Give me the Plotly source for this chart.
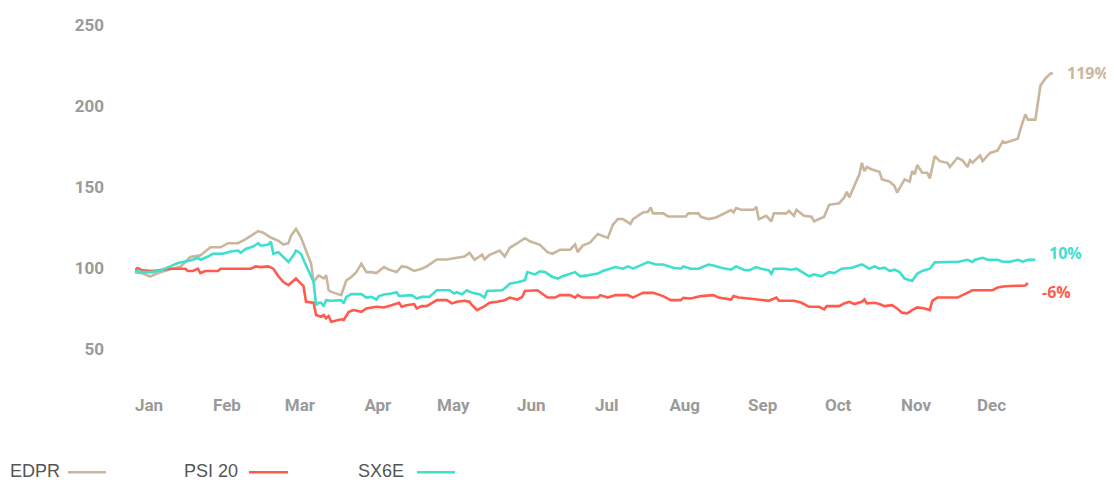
import pandas as pd
import plotly.graph_objects as go

# ---- data (day offset from 2020-01-01, indexed value) ----
edpr_day = [0, 3, 6, 9, 13, 18, 22, 26, 30, 34, 37, 41, 44, 48, 49, 51, 54, 57, 59, 61, 62, 64, 66, 68, 70, 71, 73, 75, 76, 77, 78, 82, 84, 86, 88, 90, 92, 94, 96, 99, 101, 104, 106, 108, 111, 114, 116, 120, 124, 128, 131, 133, 135, 138, 139, 141, 145, 147, 149, 152, 155, 157, 161, 164, 166, 169, 173, 175, 176, 178, 181, 184, 188, 190, 192, 194, 197, 198, 202, 204, 205, 206, 210, 212, 219, 220, 224, 225, 228, 231, 233, 237, 238, 239, 241, 246, 247, 248, 251, 253, 254, 259, 260, 262, 263, 266, 269, 270, 274, 276, 280, 282, 283, 284, 288, 289, 290, 291, 293, 296, 297, 300, 302, 303, 306, 308, 309, 310, 311, 313, 315, 316, 318, 320, 323, 324, 327, 329, 331, 332, 333, 335, 336, 337, 340, 343, 345, 346, 351, 352, 354, 355, 358, 360, 362, 364, 365]
edpr_val = [97.5, 97, 95, 97, 99, 101, 107, 108, 113, 113, 115.5, 115.5, 118, 121.6, 123, 122, 119, 117, 114.7, 115.5, 120, 124.3, 119, 111, 103, 91.6, 95.7, 93.9, 95.7, 86.5, 85.5, 83.5, 92.6, 94.7, 97.7, 102.9, 97.7, 97.7, 97.1, 100.8, 99.2, 97.7, 101.2, 100.8, 98.4, 99.8, 101.2, 105.5, 105.5, 106.5, 107.3, 109.6, 105.3, 108.4, 105.5, 108.4, 111, 107.3, 112.7, 115.5, 118.6, 116.7, 114.5, 110, 109, 111.5, 111.5, 114.7, 110, 114, 116, 121.2, 118.8, 127, 130.4, 130.4, 127.4, 130.4, 134.5, 134.9, 137.5, 133.9, 133.9, 132, 132, 133.9, 133.9, 131.8, 130.4, 131.4, 133, 135.9, 134.5, 137.2, 136.1, 136.1, 138, 130.4, 132.4, 129, 133.9, 133.9, 135.5, 132.4, 136.1, 132.4, 131.8, 129, 131.8, 139.2, 140.2, 143.7, 147.3, 143.7, 158, 165.1, 160, 162.5, 161, 159.6, 154.9, 153.5, 150.8, 146.7, 154.9, 153.5, 160, 158, 163.7, 159, 159, 155.5, 169.2, 166.1, 165.1, 162.5, 168.2, 166.6, 162.5, 166.6, 165.1, 168.2, 169.6, 166.1, 171.2, 172.7, 178.4, 177.4, 180, 185.5, 195, 191.7, 191.7, 212.7, 217.1, 220.2, 220.2]

psi_day = [0, 1, 3, 7, 11, 14, 20, 21, 23, 25, 26, 28, 33, 34, 46, 48, 50, 53, 55, 57, 59, 61, 62, 64, 66, 67, 68, 71, 72, 74, 75, 76, 77, 78, 82, 83, 85, 87, 90, 92, 96, 99, 102, 105, 106, 108, 111, 112, 114, 116, 120, 124, 126, 128, 131, 133, 134, 136, 139, 141, 144, 147, 149, 152, 154, 155, 160, 162, 164, 167, 169, 173, 175, 176, 178, 184, 185, 188, 191, 196, 198, 200, 202, 206, 210, 213, 217, 218, 221, 225, 230, 232, 237, 238, 240, 244, 249, 252, 255, 256, 262, 265, 268, 272, 274, 275, 280, 282, 284, 286, 289, 290, 291, 294, 296, 298, 301, 303, 305, 307, 309, 311, 314, 316, 317, 319, 327, 329, 333, 341, 343, 346, 351, 354, 355]
psi_val = [98.8, 100.2, 98.8, 98.4, 99.2, 99.8, 99.8, 98.4, 98.4, 99.8, 97.1, 98.4, 98.4, 99.8, 99.8, 101.2, 100.8, 101.2, 99.8, 95.1, 91.6, 89.6, 91, 93.7, 90.6, 89, 79.4, 78.8, 71.2, 70.2, 71.2, 69.2, 70.6, 67.1, 68.6, 68.2, 73.2, 74.3, 73.2, 75.3, 76.3, 75.9, 77.3, 78.8, 76.3, 77.3, 78, 75.3, 76.7, 76.7, 80.4, 80.4, 78.4, 79.4, 80, 79.4, 77.3, 74.3, 76.7, 78.8, 79.4, 80.4, 82, 80.8, 82.4, 86.1, 86.5, 84.5, 82, 82, 83.5, 83.5, 82, 83.5, 82, 82, 83.5, 82, 83.5, 83.5, 82, 83.5, 84.9, 84.9, 82.9, 80.4, 80.4, 81.8, 81.4, 82.9, 83.5, 82, 80.8, 82.9, 82, 81.4, 80.8, 80, 82, 80, 80, 78.8, 76.3, 76.3, 74.7, 76.7, 76.7, 78.4, 79.4, 78, 79.4, 80.8, 78.4, 78.8, 78, 76.7, 77.3, 75.3, 72.7, 72.3, 74.3, 75.9, 75.3, 74.3, 80, 82, 82, 83.5, 86.5, 86.5, 88.2, 89, 89, 89.4, 91]

sx_day = [0, 3, 7, 11, 14, 17, 20, 23, 25, 26, 29, 31, 35, 38, 41, 42, 44, 47, 49, 50, 53, 54, 55, 57, 61, 63, 64, 66, 67, 69, 71, 72, 73, 74, 75, 76, 78, 82, 83, 84, 86, 90, 92, 94, 96, 97, 99, 102, 104, 105, 108, 110, 112, 114, 117, 120, 125, 127, 128, 130, 132, 134, 137, 139, 140, 143, 146, 148, 149, 152, 155, 156, 159, 161, 163, 166, 168, 170, 174, 175, 176, 177, 180, 184, 186, 189, 191, 194, 196, 198, 201, 204, 207, 210, 214, 217, 218, 221, 224, 228, 230, 233, 237, 239, 242, 244, 247, 249, 252, 253, 254, 258, 261, 263, 266, 268, 270, 273, 276, 278, 281, 285, 289, 292, 294, 296, 298, 300, 302, 304, 306, 309, 311, 313, 316, 318, 324, 327, 331, 333, 334, 337, 339, 343, 345, 348, 351, 353, 355, 358]
sx_val = [98.4, 97.7, 97.7, 99.2, 101.2, 103.3, 104.3, 105.3, 106.5, 105.3, 107.3, 109, 109, 110.4, 111, 109.6, 112, 113.5, 115.5, 114, 114.7, 116.5, 109, 110, 103.9, 108, 111, 109, 105.3, 98.8, 91.6, 77.3, 78.8, 78.8, 76.7, 80.4, 80, 80.4, 78.4, 82.4, 84.1, 84.1, 82, 82.4, 80.8, 82.9, 83.9, 84.5, 85.3, 83, 83.5, 83.5, 81.4, 82.4, 82.4, 86.5, 86.5, 84.5, 85.3, 84.1, 86.5, 84.9, 84.1, 82, 86.1, 86.5, 86.5, 89, 90.6, 91.4, 92.6, 97.7, 96.3, 98.2, 97.7, 94.7, 93.7, 95.1, 97.1, 97.7, 96.3, 95.1, 95.7, 96.8, 98.4, 99.8, 100.8, 99.8, 101.2, 99.8, 101.8, 103.9, 102.4, 102.4, 100.4, 99.8, 101.2, 99.8, 99.8, 102.3, 101.8, 100.4, 99.2, 101.2, 99.2, 98.8, 100.8, 99.8, 98.8, 96.7, 99.8, 99.8, 99.2, 99.8, 97.1, 95.1, 96.3, 95.1, 97.7, 97.1, 99.8, 100.4, 102.4, 99.8, 101.2, 99.8, 100.4, 98.4, 99.2, 97.7, 93.7, 92.2, 96.7, 98.4, 99.8, 103.7, 103.9, 103.9, 105.3, 103.9, 105.3, 106.5, 105.3, 105.3, 104.1, 104.1, 105.3, 104.1, 105.3, 105.3]

series_names = ["EDPR", "PSI 20", "SX6E"]
end_labels = ["119%", "-6%", "10%"]
month_labels = ["Jan", "Feb", "Mar", "Apr", "May", "Jun", "Jul", "Aug", "Sep", "Oct", "Nov", "Dec"]
y_ticks = [50, 100, 150, 200, 250]

colors = ["#C9B69D", "#FF5A4C", "#3FDFCF"]
base = pd.Timestamp("2020-01-01")

def to_dates(days):
    return [base + pd.Timedelta(days=d) for d in days]

days_list = [edpr_day, psi_day, sx_day]
vals_list = [edpr_val, psi_val, sx_val]
label_yshift = [0, -9, 7]

# figure geometry (page has an 8px body margin)
W, H = 1106, 474
L, R, T, B = 127, 61, 7, 92
PW, PH = W - L - R, H - T - B

fig = go.Figure()
for name, d, v, c in zip(series_names, days_list, vals_list, colors):
    fig.add_trace(go.Scatter(x=to_dates(d), y=v, mode="lines", name=name,
                             line=dict(color=c, width=2.6), hoverinfo="skip",
                             showlegend=False))

# end-of-line labels
for d, v, c, lab, ys in zip(days_list, vals_list, colors, end_labels, label_yshift):
    fig.add_annotation(x=to_dates([d[-1]])[0], y=v[-1], text=lab, showarrow=False,
                       xanchor="left", yanchor="middle", xshift=12, yshift=ys,
                       font=dict(family="Open Sans", size=16, color=c, weight="bold"))

# custom legend (text followed by a line sample)
legend_text_x = [0, 174, 348]
legend_line_x = [(60, 98), (241, 280), (409, 447)]
text_y = 1 - (463.5 - T) / PH
line_y = 1 - (464.7 - T) / PH
for name, c, tx, (x0, x1) in zip(series_names, colors, legend_text_x, legend_line_x):
    fig.add_annotation(x=(tx - L) / PW, y=text_y, xref="paper", yref="paper", text=name,
                       showarrow=False, xanchor="left", yanchor="middle",
                       font=dict(family="Liberation Sans", size=18, color="#555555"))
    fig.add_shape(type="line", xref="paper", yref="paper",
                  x0=(x0 - L) / PW, x1=(x1 - L) / PW, y0=line_y, y1=line_y,
                  line=dict(color=c, width=2.5))

month_ticks = [base + pd.DateOffset(months=i) for i in range(12)]

fig.update_layout(
    width=W, height=H,
    margin=dict(l=L, r=R, t=T, b=B),
    paper_bgcolor="white", plot_bgcolor="white",
    xaxis=dict(type="date", range=[base, pd.Timestamp("2020-12-31")],
               tickvals=month_ticks, ticktext=month_labels,
               showgrid=False, zeroline=False, showline=False, ticks="",
               ticklabelshift=14, ticklabelstandoff=3,
               tickfont=dict(family="Roboto", size=17, color="#9A9A9A", weight="bold")),
    yaxis=dict(range=[25, 255], tickvals=y_ticks, showgrid=False, zeroline=False,
               showline=False, ticks="", ticklabelstandoff=30,
               tickfont=dict(family="Roboto", size=17, color="#9A9A9A", weight="bold")),
    hovermode=False,
)

fig.write_html("out.html")
